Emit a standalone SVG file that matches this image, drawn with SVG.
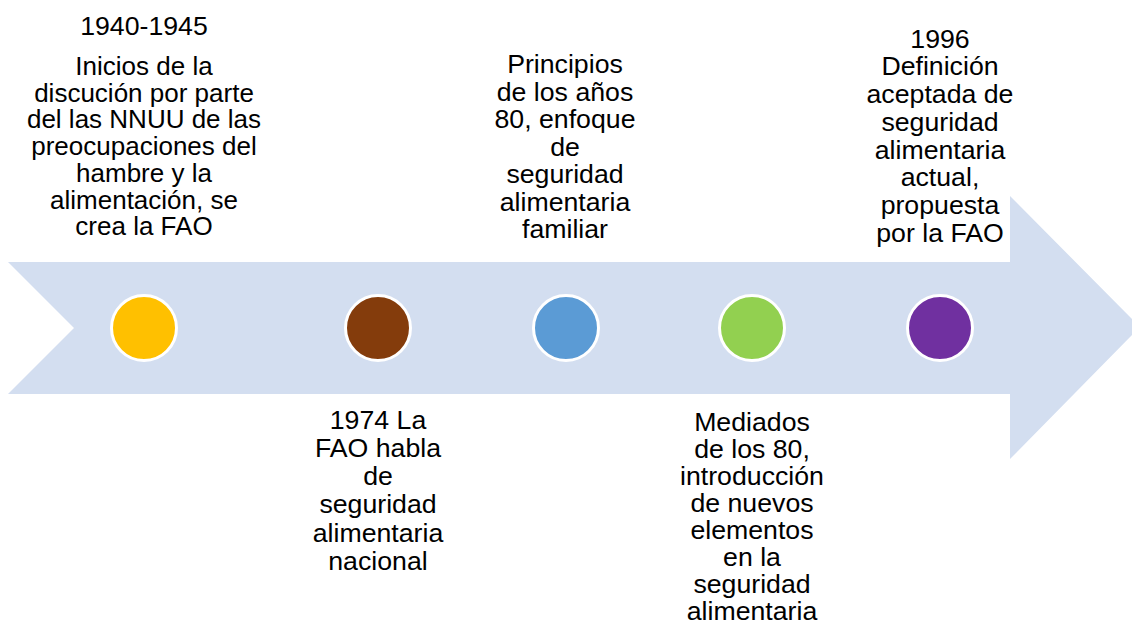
<svg xmlns="http://www.w3.org/2000/svg" width="1132" height="626" viewBox="0 0 1132 626">
<style>
.t{font-family:"Liberation Sans",Arial,sans-serif;font-size:26.7px;fill:#000;text-anchor:middle}
.s{font-size:26px}
.dot{stroke:#fff;stroke-width:3}
</style>
<rect width="1132" height="626" fill="#fff"/>
<g id="arrow">
<polygon points="8,262 1010,262 1010,196 1140,327 1010,459 1010,394 8,394 74,328" fill="#D3DEF0"/>
</g>
<g id="connectors"></g>
<g id="n1">
<circle class="dot" cx="144" cy="328" r="32.5" fill="#FFC000"/>
<text class="t" x="144" y="35">1940-1945</text>
<text class="t s"><tspan x="144" y="75">Inicios de la</tspan><tspan x="144" y="101.7">discución por parte</tspan><tspan x="144" y="128.4">del las NNUU de las</tspan><tspan x="144" y="155.1">preocupaciones del</tspan><tspan x="144" y="181.8">hambre y la</tspan><tspan x="144" y="208.5">alimentación, se</tspan><tspan x="144" y="235.2">crea la FAO</tspan></text>
</g>
<g id="n2">
<circle class="dot" cx="378" cy="328" r="32.5" fill="#843C0C"/>
<text class="t"><tspan x="378" y="428.5">1974 La</tspan><tspan x="378" y="456.8">FAO habla</tspan><tspan x="378" y="485.1">de</tspan><tspan x="378" y="513.4">seguridad</tspan><tspan x="378" y="541.7">alimentaria</tspan><tspan x="378" y="570">nacional</tspan></text>
</g>
<g id="n3">
<circle class="dot" cx="566" cy="328" r="32.5" fill="#5B9BD5"/>
<text class="t"><tspan x="565" y="73.3">Principios</tspan><tspan x="565" y="100.8">de los años</tspan><tspan x="565" y="128.3">80, enfoque</tspan><tspan x="565" y="155.8">de</tspan><tspan x="565" y="183.3">seguridad</tspan><tspan x="565" y="210.8">alimentaria</tspan><tspan x="565" y="238.3">familiar</tspan></text>
</g>
<g id="n4">
<circle class="dot" cx="752" cy="328" r="32.5" fill="#92D050"/>
<text class="t"><tspan x="752" y="430.5">Mediados</tspan><tspan x="752" y="457.6">de los 80,</tspan><tspan x="752" y="484.7">introducción</tspan><tspan x="752" y="511.8">de nuevos</tspan><tspan x="752" y="538.9">elementos</tspan><tspan x="752" y="566">en la</tspan><tspan x="752" y="593.1">seguridad</tspan><tspan x="752" y="620.2">alimentaria</tspan></text>
</g>
<g id="n5">
<circle class="dot" cx="940" cy="328" r="32.5" fill="#7030A0"/>
<text class="t"><tspan x="940" y="47.7">1996</tspan><tspan x="940" y="75.4">Definición</tspan><tspan x="940" y="103.1">aceptada de</tspan><tspan x="940" y="130.8">seguridad</tspan><tspan x="940" y="158.5">alimentaria</tspan><tspan x="940" y="186.2">actual,</tspan><tspan x="940" y="213.9">propuesta</tspan><tspan x="940" y="241.6">por la FAO</tspan></text>
</g>
</svg>
